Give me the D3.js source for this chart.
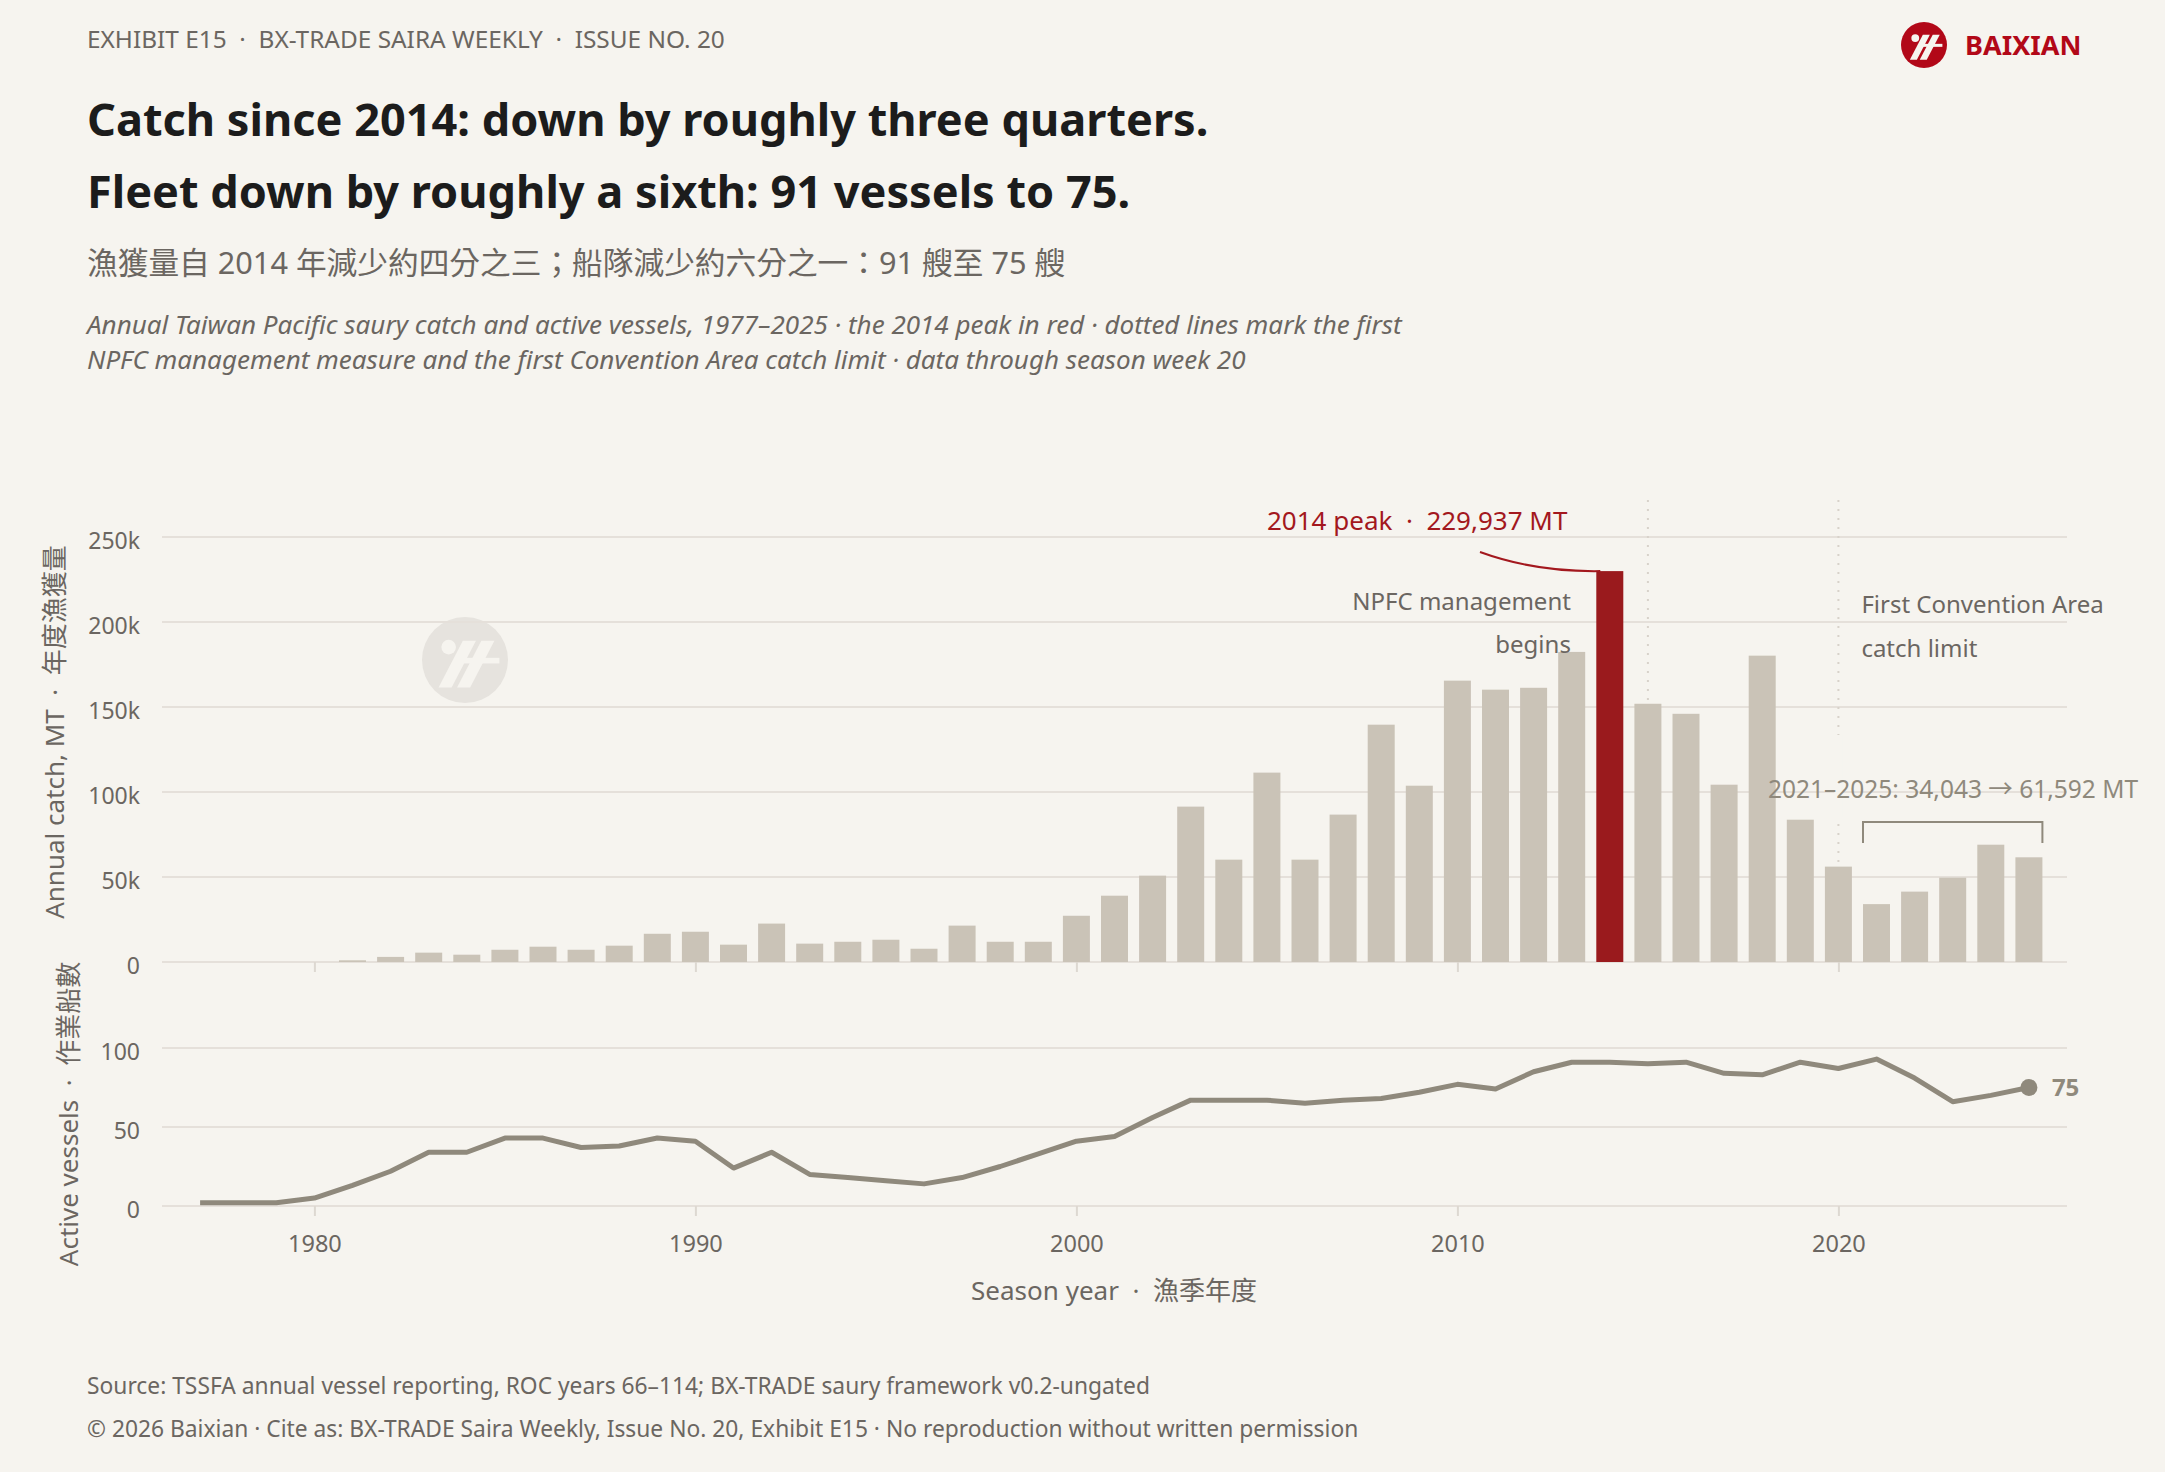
<!DOCTYPE html>
<html>
<head>
<meta charset="utf-8">
<script src="https://cdn.jsdelivr.net/npm/d3@7"></script>
<style>
  html, body { margin: 0; padding: 0; background: #f6f4ef; }
  svg { display: block; font-family: "Noto Sans", "Noto Sans CJK TC", sans-serif; }
  text { white-space: pre; }
</style>
</head>
<body>
<div id="chart"></div>
<script>
// ---- data ----
var years = d3.range(1977, 2026);
var catchMT = [0, 0, 0, 0, 1000, 3000, 5500, 4300, 7200, 9000,
  7200, 9600, 16600, 17800, 10200, 22600, 10800, 11900, 13100, 7800,
  21400, 11900, 11900, 27200, 39000, 50800, 91400, 60200, 111400, 60200,
  86700, 139600, 103700, 165500, 160200, 161300, 182400, 229937, 151900, 146000,
  104300, 180200, 83700, 56100, 34043, 41400, 49600, 69000, 61592];
var vessels = [2, 2, 2, 5, 13, 22, 34, 34, 43, 43,
  37, 38, 43, 41, 24, 34, 20, 18, 16, 14,
  18, 25, 33, 41, 44, 56, 67, 67, 67, 65,
  67, 68, 72, 77, 74, 85, 91, 91, 90, 91,
  84, 83, 91, 87, 93, 81, 66, 70, 75];
var catchTicks = [0, 50000, 100000, 150000, 200000, 250000];
var vesselTicks = [0, 50, 100];
var yearTicks = [1980, 1990, 2000, 2010, 2020];
var peakYear = 2014, npfcYear = 2015, limitYear = 2020;

var W = 2165, H = 1472;
var C = { bg: "#f6f4ef", grid: "#e5e0da", bar: "#cac3b7", peak: "#9a1a1d", line: "#8f897c",
          text: "#6b6661", dark: "#1c1c1c", red: "#a3181e", logo: "#b20818" };

var svg = d3.select("#chart").append("svg").attr("width", W).attr("height", H);
svg.append("rect").attr("width", W).attr("height", H).attr("fill", C.bg);

// ---- scales ----
var x = d3.scaleLinear().domain([1976, 2026]).range([162, 2067]);
var yC = d3.scaleLinear().domain([0, 250000]).range([962, 537]);
var yV = d3.scaleLinear().domain([0, 100]).range([1206, 1048]);
var barW = 27;

// ---- header ----
svg.append("text").attr("x", 87).attr("y", 48).attr("font-size", 24.4).attr("fill", C.text)
  .text("EXHIBIT E15  ·  BX-TRADE SAIRA WEEKLY  ·  ISSUE NO. 20");
svg.append("text").attr("x", 87).attr("y", 136).attr("font-size", 45.1).attr("font-weight", 700).attr("fill", C.dark)
  .text("Catch since 2014: down by roughly three quarters.");
svg.append("text").attr("x", 87).attr("y", 208).attr("font-size", 45.1).attr("font-weight", 700).attr("fill", C.dark)
  .text("Fleet down by roughly a sixth: 91 vessels to 75.");
svg.append("text").attr("x", 87).attr("y", 274).attr("font-size", 30.7).attr("fill", C.text)
  .text("漁獲量自 2014 年減少約四分之三；船隊減少約六分之一：91 艘至 75 艘");
svg.append("text").attr("x", 87).attr("y", 334).attr("font-size", 26).attr("font-style", "italic").attr("fill", C.text)
  .text("Annual Taiwan Pacific saury catch and active vessels, 1977–2025 · the 2014 peak in red · dotted lines mark the first");
svg.append("text").attr("x", 87).attr("y", 369).attr("font-size", 26).attr("font-style", "italic").attr("fill", C.text)
  .text("NPFC management measure and the first Convention Area catch limit · data through season week 20");

// ---- logo ----
function drawMark(g, r, fill, cut) {
  g.append("circle").attr("r", r).attr("fill", fill);
  g.append("circle").attr("cx", -r * 0.38).attr("cy", -r * 0.3).attr("r", r * 0.17).attr("fill", cut);
  var s = r / 23;
  var slash = "M0,0 L7,0 L-6,25 L-13,25 Z";
  g.append("path").attr("d", slash).attr("transform", "translate(" + (-r * 0.05) + "," + (-r * 0.45) + ") scale(" + s + ")").attr("fill", cut);
  g.append("path").attr("d", slash).attr("transform", "translate(" + (r * 0.38) + "," + (-r * 0.45) + ") scale(" + s + ")").attr("fill", cut);
  g.append("rect").attr("x", -r * 0.15).attr("y", -r * 0.05).attr("width", r * 0.95).attr("height", r * 0.13).attr("fill", cut);
}
var logo = svg.append("g").attr("transform", "translate(1924,45)");
drawMark(logo, 23, C.logo, C.bg);
svg.append("text").attr("x", 1965).attr("y", 55).attr("font-size", 27).attr("font-weight", 700)
  .attr("fill", C.logo).text("BAIXIAN");

// watermark
var wm = svg.append("g").attr("transform", "translate(465,660)");
drawMark(wm, 43, "#e6e3de", C.bg);

// ---- grid ----
svg.append("g").selectAll("line").data(catchTicks).join("line")
  .attr("x1", x.range()[0]).attr("x2", x.range()[1])
  .attr("y1", d => yC(d)).attr("y2", d => yC(d))
  .attr("stroke", C.grid).attr("stroke-width", 2);
svg.append("g").selectAll("line").data(vesselTicks).join("line")
  .attr("x1", x.range()[0]).attr("x2", x.range()[1])
  .attr("y1", d => yV(d)).attr("y2", d => yV(d))
  .attr("stroke", C.grid).attr("stroke-width", 2);

// y axes
var yAxisC = svg.append("g").attr("transform", "translate(140,0)")
  .call(d3.axisLeft(yC).tickValues(catchTicks).tickSize(0).tickPadding(0)
    .tickFormat(d => d === 0 ? "0" : d / 1000 + "k"));
var yAxisV = svg.append("g").attr("transform", "translate(140,0)")
  .call(d3.axisLeft(yV).tickValues(vesselTicks).tickSize(0).tickPadding(0));
[yAxisC, yAxisV].forEach(function (a) {
  a.select(".domain").remove();
  a.selectAll("text").attr("font-size", 23).attr("fill", C.text).attr("dy", "0.5em")
    .attr("font-family", "'Noto Sans', sans-serif");
});

// x axes
var xTop = svg.append("g").attr("transform", "translate(0," + yC(0) + ")")
  .call(d3.axisBottom(x).tickValues(yearTicks).tickSize(10).tickFormat(""));
var xBot = svg.append("g").attr("transform", "translate(0," + yV(0) + ")")
  .call(d3.axisBottom(x).tickValues(yearTicks).tickSize(10).tickPadding(19).tickFormat(d3.format("d")));
[xTop, xBot].forEach(function (a) {
  a.select(".domain").remove();
  a.selectAll("line").attr("stroke", "#ddd8d1").attr("stroke-width", 2);
  a.selectAll("text").attr("font-size", 23.5).attr("fill", C.text).attr("font-family", "'Noto Sans', sans-serif");
});

// axis titles
svg.append("text").attr("transform", "translate(64,732) rotate(-90)").attr("text-anchor", "middle")
  .attr("font-size", 26).attr("fill", C.text).text("Annual catch, MT  ·  年度漁獲量");
svg.append("text").attr("transform", "translate(78,1114) rotate(-90)").attr("text-anchor", "middle")
  .attr("font-size", 26).attr("fill", C.text).text("Active vessels  ·  作業船數");
svg.append("text").attr("x", 1114).attr("y", 1300).attr("text-anchor", "middle")
  .attr("font-size", 26).attr("fill", C.text).text("Season year  ·  漁季年度");

// ---- bars ----
var rows = years.map((yr, i) => ({ year: yr, c: catchMT[i], v: vessels[i] }));
svg.append("g").selectAll("rect").data(rows.filter(d => d.c > 0)).join("rect")
  .attr("x", d => x(d.year) - barW / 2).attr("width", barW)
  .attr("y", d => yC(d.c)).attr("height", d => yC(0) - yC(d.c))
  .attr("fill", d => d.year === peakYear ? C.peak : C.bar);

// ---- dotted markers ----
function rowOf(yr) { return rows.find(d => d.year === yr); }
var dotTop = 500;
svg.append("line").attr("x1", x(npfcYear)).attr("x2", x(npfcYear))
  .attr("y1", dotTop).attr("y2", yC(rowOf(npfcYear).c))
  .attr("stroke", "#d8d2ca").attr("stroke-width", 2).attr("stroke-dasharray", "2,7");
svg.append("line").attr("x1", x(limitYear)).attr("x2", x(limitYear))
  .attr("y1", dotTop).attr("y2", yC(rowOf(limitYear).c))
  .attr("stroke", "#d8d2ca").attr("stroke-width", 2).attr("stroke-dasharray", "2,7");

// ---- annotations ----
var peak = rowOf(peakYear);
svg.append("text").attr("x", 1267).attr("y", 530).attr("font-size", 26).attr("fill", C.red)
  .text("2014 peak  ·  229,937 MT");
var lx0 = 1480, ly0 = 552, lx1 = x(peakYear) - barW / 2 + 4, ly1 = yC(peak.c);
svg.append("path").attr("d", "M" + lx0 + "," + ly0 + " Q" + (lx0 + 55) + "," + (ly1 + 1) + " " + lx1 + "," + ly1)
  .attr("fill", "none").attr("stroke", C.red).attr("stroke-width", 2);

svg.append("text").attr("x", x(npfcYear) - 77).attr("y", 610).attr("text-anchor", "end")
  .attr("font-size", 24).attr("fill", C.text).text("NPFC management");
svg.append("text").attr("x", x(npfcYear) - 77).attr("y", 653).attr("text-anchor", "end")
  .attr("font-size", 24).attr("fill", C.text).text("begins");
svg.append("text").attr("x", x(limitYear) + 23).attr("y", 613)
  .attr("font-size", 24).attr("fill", C.text).text("First Convention Area");
svg.append("text").attr("x", x(limitYear) + 23).attr("y", 657)
  .attr("font-size", 24).attr("fill", C.text).text("catch limit");

// recent-window bracket
var b0 = x(2021) - barW / 2, b1 = x(2025) + barW / 2, by = 822;
svg.append("rect").attr("x", x(limitYear) - 4).attr("y", 735).attr("width", 8).attr("height", 82).attr("fill", C.bg);
svg.append("text").attr("x", 1768).attr("y", 798).attr("font-size", 24.5).attr("fill", C.line)
  .text("2021–2025: 34,043 → 61,592 MT");
svg.append("path").attr("d", "M" + b0 + "," + (by + 21) + " V" + by + " H" + b1 + " V" + (by + 21))
  .attr("fill", "none").attr("stroke", C.line).attr("stroke-width", 2);

// ---- vessel line ----
var line = d3.line().x(d => x(d.year)).y(d => yV(d.v));
svg.append("path").datum(rows).attr("d", line).attr("fill", "none")
  .attr("stroke", C.line).attr("stroke-width", 5).attr("stroke-linejoin", "round");
var last = rows[rows.length - 1];
svg.append("circle").attr("cx", x(last.year)).attr("cy", yV(last.v)).attr("r", 8.5).attr("fill", C.line);
svg.append("text").attr("x", x(last.year) + 23).attr("y", yV(last.v) + 8)
  .attr("font-size", 24).attr("font-weight", 700).attr("fill", C.line).text(last.v);

// ---- footer ----
svg.append("text").attr("x", 87).attr("y", 1394).attr("font-size", 22.8).attr("fill", C.text)
  .text("Source: TSSFA annual vessel reporting, ROC years 66–114; BX-TRADE saury framework v0.2-ungated");
svg.append("text").attr("x", 87).attr("y", 1437).attr("font-size", 22.8).attr("fill", C.text)
  .text("© 2026 Baixian · Cite as: BX-TRADE Saira Weekly, Issue No. 20, Exhibit E15 · No reproduction without written permission");
</script>
</body>
</html>
